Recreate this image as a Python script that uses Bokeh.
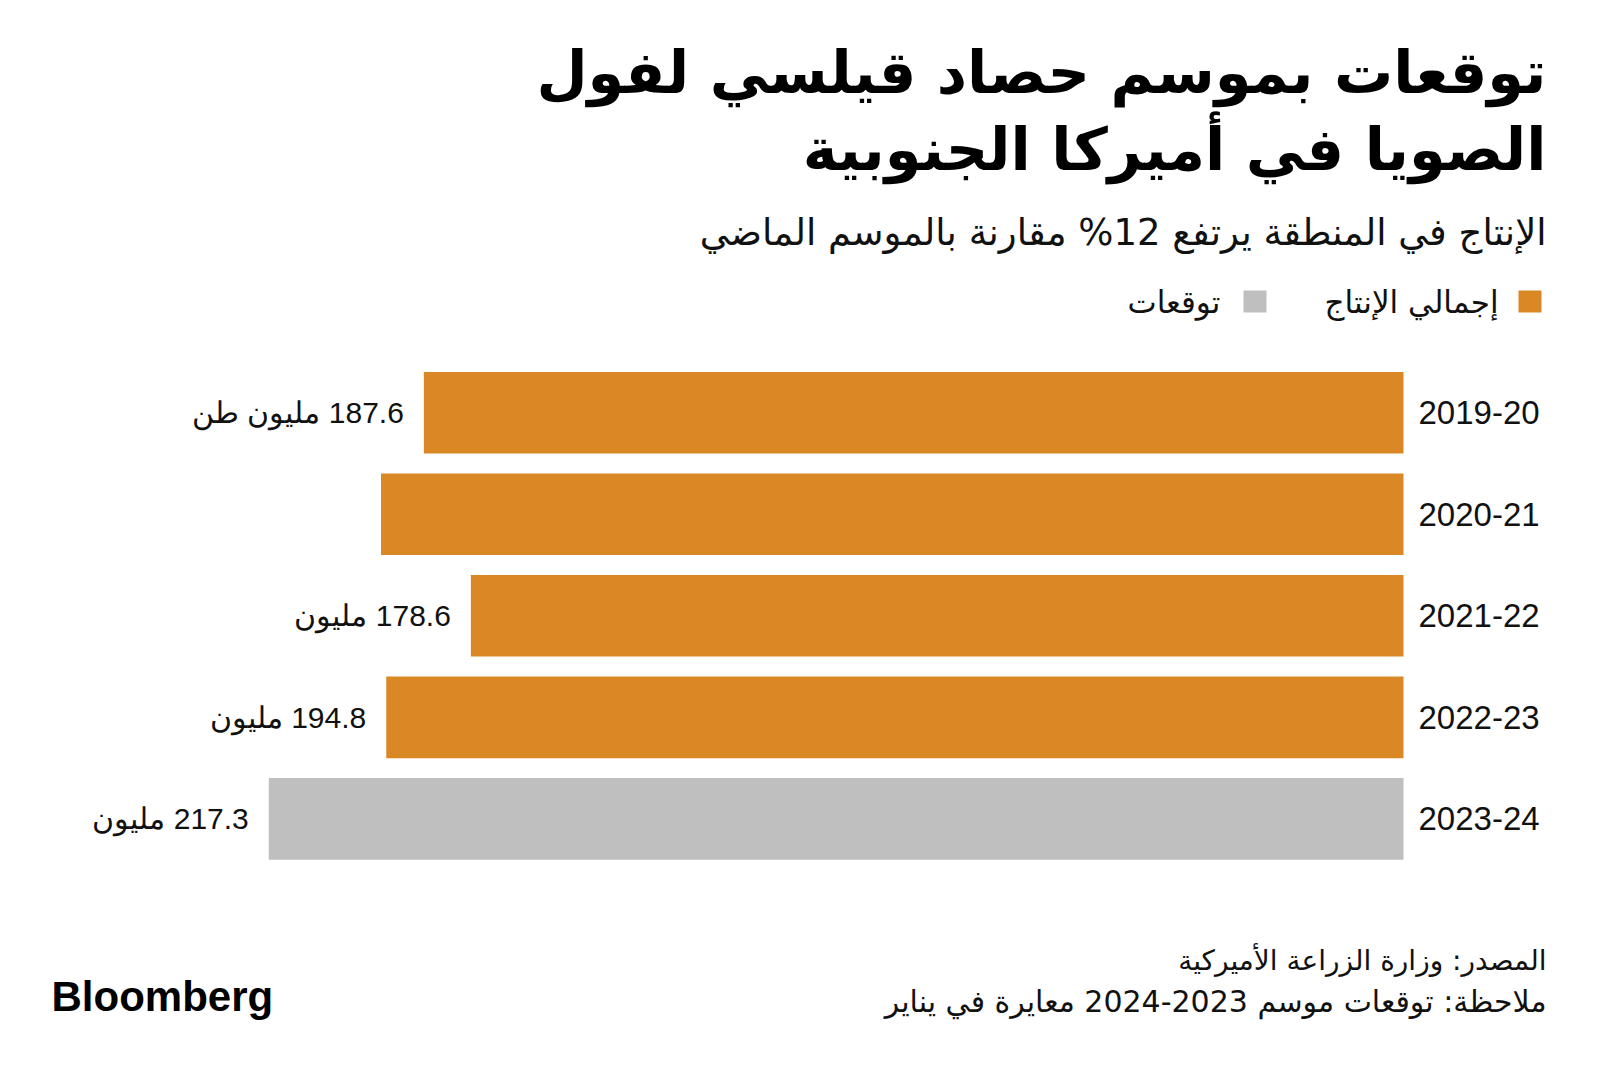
from bokeh.plotting import figure
from bokeh.models import Range1d, Label, BoxAnnotation, ColumnDataSource
from bokeh.embed import file_html
from bokeh.resources import INLINE
from bokeh.core.properties import value

# ---- data ----
seasons = ["2019-20", "2020-21", "2021-22", "2022-23", "2023-24"]
production = [187.6, 195.8, 178.6, 194.8, 217.3]
is_forecast = [False, False, False, False, True]
value_texts = ["187.6 مليون طن", "", "178.6 مليون", "194.8 مليون", "217.3 مليون"]

title_lines = ["توقعات بموسم حصاد قيلسي لفول", "الصويا في أميركا الجنوبية"]
subtitle = "الإنتاج في المنطقة يرتفع 12% مقارنة بالموسم الماضي"
legend_labels = ["إجمالي الإنتاج", "توقعات"]
source_line = "المصدر: وزارة الزراعة الأميركية"
note_line = "ملاحظة: توقعات موسم 2023-2024 معايرة في يناير"
brand = "Bloomberg"

ORANGE = "#DA8825"
GRAY = "#BFBFBF"
RLM = "\u200f"

W, H = 1584, 1059
PX_PER_UNIT = 5.222
BAR_RIGHT = 1403.0
ROW0 = 412.2
PITCH = 101.55

x_start = BAR_RIGHT / PX_PER_UNIT
x_end = (BAR_RIGHT - W) / PX_PER_UNIT
y_start = (H - ROW0) / PITCH
y_end = -ROW0 / PITCH

p = figure(width=W, height=H, output_backend="svg", toolbar_location=None,
           x_range=Range1d(x_start, x_end), y_range=Range1d(y_start, y_end),
           x_axis_location=None, y_axis_location=None, min_border=0)
p.title_location = None
p.xgrid.visible = False
p.ygrid.visible = False
p.outline_line_color = None
p.background_fill_color = "white"
p.border_fill_color = "white"

rows = list(range(len(seasons)))
src = ColumnDataSource(dict(
    y=rows,
    val=production,
    zero=[0] * len(rows),
    color=[GRAY if f else ORANGE for f in is_forecast],
    season=seasons,
    vlabel=[(RLM + t) if t else "" for t in value_texts],
))

p.hbar(y="y", left="zero", right="val", height=0.804, fill_color="color",
       line_color=None, source=src)

p.text(x="zero", y="y", text="season", source=src, x_offset=15,
       text_align="left", text_baseline="middle", text_font_size="33px",
       text_font=value("Liberation Sans"), text_color="#111111")

p.text(x="val", y="y", text="vlabel", source=src, x_offset=-20,
       text_align="right", text_baseline="middle", text_font_size="30px",
       text_font=value("Liberation Sans"), text_color="#111111")


def label(txt, cx, cy, size, align="right", bold=False, font="DejaVu Sans", color="#000000"):
    p.add_layout(Label(x=cx, y=H - cy, x_units="screen", y_units="screen", text=txt,
                       text_align=align, text_baseline="middle", text_font_size=size,
                       text_font=font, text_font_style="bold" if bold else "normal",
                       text_color=color))


RIGHT = 1546
label(title_lines[0], RIGHT, 72, "59px", bold=True)
label(title_lines[1], RIGHT, 149, "59px", bold=True)
label(subtitle, RIGHT, 232, "37px", color="#111111")

# legend
p.add_layout(BoxAnnotation(left=1518, right=1541, top=H - 290, bottom=H - 312,
                           left_units="screen", right_units="screen",
                           top_units="screen", bottom_units="screen",
                           fill_color=ORANGE, fill_alpha=1, line_color=None))
label(legend_labels[0], 1498, 301, "31px", color="#111111")
p.add_layout(BoxAnnotation(left=1243, right=1266, top=H - 290, bottom=H - 312,
                           left_units="screen", right_units="screen",
                           top_units="screen", bottom_units="screen",
                           fill_color=GRAY, fill_alpha=1, line_color=None))
label(legend_labels[1], 1220, 301, "31px", color="#111111")

# footer
label(source_line, RIGHT, 960, "28px", color="#111111")
label(note_line, RIGHT, 1001, "30px", color="#111111")
label(brand, 51, 996, "42px", align="left", bold=True, font="Liberation Sans")

open("out.html", "w").write(file_html(p, INLINE))
